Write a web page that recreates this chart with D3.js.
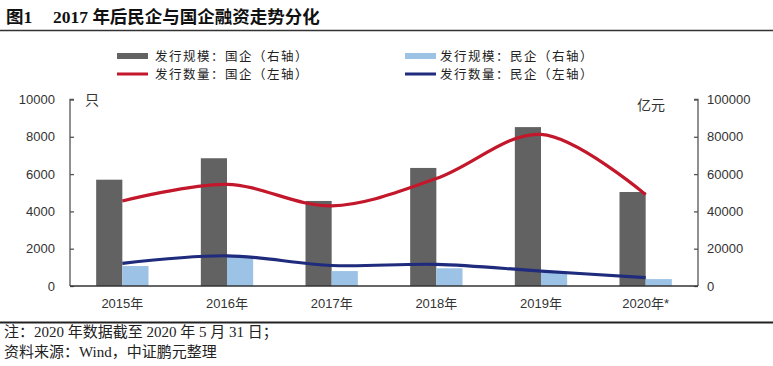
<!DOCTYPE html>
<html><head><meta charset="utf-8">
<script src="https://cdn.jsdelivr.net/npm/d3@7"></script>
<style>
html,body{margin:0;padding:0;background:#fff;}
svg{display:block;}
</style></head>
<body>
<svg id="c" width="773" height="366"></svg>
<script>
// ---- data ----
const years = ["2015年","2016年","2017年","2018年","2019年","2020年*"];
const scaleSOE = [57000, 68500, 45600, 63300, 85200, 50400];      // 发行规模：国企（右轴）亿元
const scalePrivate = [10700, 15700, 8000, 9500, 7100, 3700];       // 发行规模：民企（右轴）亿元
const countSOE = [4560, 5450, 4300, 5760, 8130, 4900];             // 发行数量：国企（左轴）只
const countPrivate = [1210, 1620, 1100, 1160, 800, 450];           // 发行数量：民企（左轴）只
const leftTicks = [0, 2000, 4000, 6000, 8000, 10000];
const rightTicks = [0, 20000, 40000, 60000, 80000, 100000];
const legendLabels = ["发行规模：国企（右轴）","发行规模：民企（右轴）","发行数量：国企（左轴）","发行数量：民企（左轴）"];

const C = {gray:"#626262", lblue:"#9cc2e6", red:"#c3172b", navy:"#1f2b7c", axis:"#555"};
const svg = d3.select("#c");
const L = 70, R = 698, T = 99.5, B = 286;

// title
const title = svg.append("text").attr("x",6).attr("y",23)
  .style("font-family","'Liberation Serif','Noto Sans CJK SC'").style("font-weight","bold")
  .style("font-size","17.5px").attr("fill","#111");
title.append("tspan").text("图1");
title.append("tspan").attr("x",53).text("2017 年后民企与国企融资走势分化");
svg.append("line").attr("x1",0).attr("x2",773).attr("y1",30.5).attr("y2",30.5)
  .attr("stroke","#333").attr("stroke-width",1.5);

// scales
const x0 = d3.scaleBand().domain(years).range([L,R]).paddingInner(0.5).paddingOuter(0.25);
const x1 = d3.scaleBand().domain(["soe","pri"]).range([0, x0.bandwidth()]);
const yL = d3.scaleLinear().domain([0,10000]).range([B,T]);
const yR = d3.scaleLinear().domain([0,100000]).range([B,T]);

// bars
const g = svg.append("g");
g.selectAll("rect.soe").data(scaleSOE).join("rect").attr("class","soe")
  .attr("x",(d,i)=>x0(years[i])+x1("soe")).attr("width",x1.bandwidth())
  .attr("y",d=>yR(d)).attr("height",d=>B-yR(d)).attr("fill",C.gray);
g.selectAll("rect.pri").data(scalePrivate).join("rect").attr("class","pri")
  .attr("x",(d,i)=>x0(years[i])+x1("pri")).attr("width",x1.bandwidth())
  .attr("y",d=>yR(d)).attr("height",d=>B-yR(d)).attr("fill",C.lblue);

// lines
const cx = (i)=>x0(years[i])+x0.bandwidth()/2;
const line = d3.line().x((d,i)=>cx(i)).y(d=>yL(d)).curve(d3.curveCatmullRom.alpha(0.5));
g.append("path").attr("d",line(countSOE)).attr("fill","none").attr("stroke",C.red).attr("stroke-width",3.2);
g.append("path").attr("d",line(countPrivate)).attr("fill","none").attr("stroke",C.navy).attr("stroke-width",3.2);

// axes
const fontAxis = "'Liberation Sans','Noto Sans CJK SC'";
const axL = svg.append("g").attr("transform",`translate(${L},0)`)
  .call(d3.axisRight(yL).tickValues(leftTicks).tickSize(4).tickFormat(""));
axL.select(".domain").attr("d",`M4,${T}H0V${B}`);
const axR = svg.append("g").attr("transform",`translate(${R},0)`)
  .call(d3.axisLeft(yR).tickValues(rightTicks).tickSize(4).tickFormat(""));
axR.select(".domain").attr("d",`M-4,${T}H0V${B}`);
[axL,axR].forEach(a=>{a.selectAll("line,path").attr("stroke",C.axis).attr("stroke-width",1.3);});

svg.append("g").selectAll("text").data(leftTicks).join("text")
  .attr("x",55).attr("y",d=>yL(d)+4.5).attr("text-anchor","end")
  .style("font-family",fontAxis).style("font-size","13px").attr("fill","#333").text(d=>d);
svg.append("g").selectAll("text").data(rightTicks).join("text")
  .attr("x",707).attr("y",d=>yR(d)+4.5).attr("text-anchor","start")
  .style("font-family",fontAxis).style("font-size","13px").attr("fill","#333").text(d=>d);

const axB = svg.append("g").attr("transform",`translate(0,${B})`)
  .call(d3.axisBottom(x0).tickSize(0).tickPadding(13));
axB.select(".domain").attr("d",`M${L},0H${R}`).attr("stroke","#333").attr("stroke-width",1.6);
axB.selectAll("text").style("font-family",fontAxis).style("font-size","13px").attr("fill","#333");

// units
svg.append("text").attr("x",85).attr("y",105).style("font-family","'Noto Sans CJK SC'")
  .style("font-size","14px").attr("fill","#333").text("只");
svg.append("text").attr("x",637).attr("y",110).style("font-family","'Noto Sans CJK SC'")
  .style("font-size","14px").attr("fill","#333").text("亿元");

// legend
const leg = [
  {x:117, y:56, t:"bar", c:C.gray, s:legendLabels[0]},
  {x:405, y:56, t:"bar", c:C.lblue, s:legendLabels[1]},
  {x:117, y:74, t:"line", c:C.red, s:legendLabels[2]},
  {x:405, y:74, t:"line", c:C.navy, s:legendLabels[3]}
];
const lg = svg.append("g");
leg.forEach(d=>{
  const h = d.t==="bar"?6:3;
  lg.append("rect").attr("x",d.x).attr("y",d.y-h/2).attr("width",31).attr("height",h).attr("fill",d.c);
  lg.append("text").attr("x",d.x+(d.x<200?38:35)).attr("y",d.y+4.5)
    .style("font-family","'Noto Sans CJK SC'").style("font-size","12.5px")
    .style("letter-spacing","1.5px").attr("fill","#222").text(d.s);
});

// footer
svg.append("line").attr("x1",0).attr("x2",773).attr("y1",322.5).attr("y2",322.5)
  .attr("stroke","#222").attr("stroke-width",2);
const ff = "'Liberation Serif','Noto Sans CJK SC'";
svg.append("text").attr("x",4).attr("y",337).style("font-family",ff).style("font-size","15px")
  .attr("fill","#222").text("注：2020 年数据截至 2020 年 5 月 31 日；");
svg.append("text").attr("x",4).attr("y",357).style("font-family",ff).style("font-size","15px")
  .attr("fill","#222").text("资料来源：Wind，中证鹏元整理");
</script>
</body></html>
